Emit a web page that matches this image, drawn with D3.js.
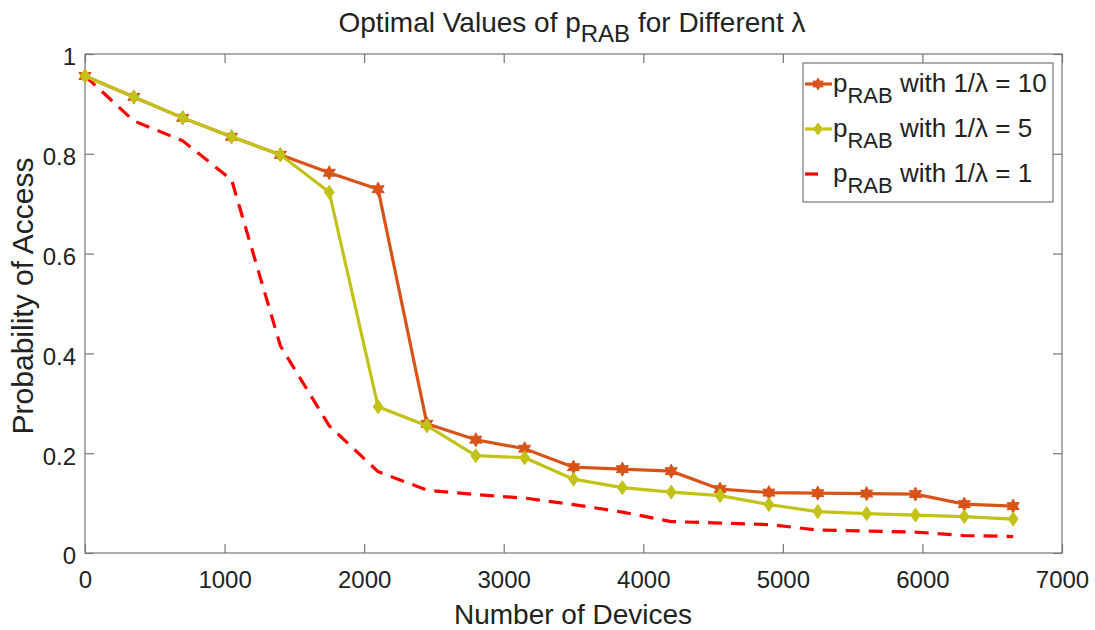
<!DOCTYPE html>
<html><head><meta charset="utf-8">
<script src="https://cdn.jsdelivr.net/npm/d3@7"></script>
<style>
html,body{margin:0;padding:0;background:#fff;}
text{font-family:"Liberation Sans",Arial,sans-serif;fill:#222;}
</style></head>
<body><svg id="c" width="1095" height="630"></svg>
<script>
const devices = [0,350,700,1050,1400,1750,2100,2450,2800,3150,3500,3850,4200,4550,4900,5250,5600,5950,6300,6650];
const pLambda10 = [0.956,0.914,0.872,0.834,0.798,0.762,0.729,0.259,0.227,0.209,0.172,0.168,0.164,0.128,0.121,0.120,0.119,0.118,0.098,0.094];
const pLambda5  = [0.956,0.914,0.872,0.834,0.798,0.723,0.293,0.255,0.195,0.191,0.148,0.131,0.122,0.115,0.097,0.083,0.079,0.076,0.073,0.068];
const pLambda1  = [0.956,0.866,0.826,0.748,0.415,0.255,0.163,0.126,0.117,0.110,0.097,0.082,0.063,0.060,0.057,0.046,0.044,0.042,0.035,0.033];
const xTicks = [0,1000,2000,3000,4000,5000,6000,7000];
const yTicks = [0,0.2,0.4,0.6,0.8,1];
const yTickLabels = ["0","0.2","0.4","0.6","0.8","1"];
const legendLabels = ["10","5","1"];

const svg = d3.select("#c");
const L=85, R=1062, T=54, B=553;
const x = d3.scaleLinear().domain([0,7000]).range([L,R]);
const y = d3.scaleLinear().domain([0,1]).range([B,T]);
const axisColor = "#777";

svg.append("rect").attr("x",L).attr("y",T).attr("width",R-L).attr("height",B-T)
  .attr("fill","none").attr("stroke",axisColor).attr("stroke-width",1.2);

function styleAxis(g){
  g.select(".domain").remove();
  g.selectAll(".tick line").attr("stroke",axisColor).attr("stroke-width",1.2);
  g.selectAll(".tick text").style("font-size","24px").style("font-family","'Liberation Sans',Arial,sans-serif").attr("fill","#222");
}
const tl = 9;
svg.append("g").attr("transform",`translate(0,${B})`)
  .call(d3.axisBottom(x).tickValues(xTicks).tickFormat(d3.format("d")).tickSize(-tl).tickPadding(18))
  .call(styleAxis);
svg.append("g").attr("transform",`translate(0,${T})`)
  .call(d3.axisTop(x).tickValues(xTicks).tickFormat("").tickSize(-tl)).call(styleAxis);
svg.append("g").attr("transform",`translate(${L},0)`)
  .call(d3.axisLeft(y).tickValues(yTicks).tickFormat((d,i)=>yTickLabels[i]).tickSize(-tl).tickPadding(9))
  .call(styleAxis)
  .call(g=>g.selectAll(".tick text").attr("dy","0.45em"));
svg.append("g").attr("transform",`translate(${R},0)`)
  .call(d3.axisRight(y).tickValues(yTicks).tickFormat("").tickSize(-tl)).call(styleAxis);

const line = d3.line().x((d,i)=>x(devices[i])).y(d=>y(d));
const cOrange="#D95319", cYellow="#C2C218", cRed="#FF0000";

function hexagram(r){
  const pts=[];
  for(let k=0;k<12;k++){
    const a=-Math.PI/2 + k*Math.PI/6;
    const rr = (k%2===0)? r : r*0.55;
    pts.push([rr*Math.cos(a), rr*Math.sin(a)]);
  }
  return "M"+pts.map(p=>p.join(",")).join("L")+"Z";
}
function diamond(r){ return `M0,${-r}L${r*0.7},0L0,${r}L${-r*0.7},0Z`; }

svg.append("path").datum(pLambda1).attr("d",line).attr("fill","none")
  .attr("stroke",cRed).attr("stroke-width",3.2).attr("stroke-dasharray","14,9");
svg.append("path").datum(pLambda10).attr("d",line).attr("fill","none")
  .attr("stroke",cOrange).attr("stroke-width",3.2);
svg.selectAll(".m10").data(pLambda10).enter().append("path")
  .attr("transform",(d,i)=>`translate(${x(devices[i])},${y(d)})`)
  .attr("d",hexagram(7)).attr("fill",cOrange).attr("stroke",cOrange).attr("stroke-width",1);
svg.append("path").datum(pLambda5).attr("d",line).attr("fill","none")
  .attr("stroke",cYellow).attr("stroke-width",3.2);
svg.selectAll(".m5").data(pLambda5).enter().append("path")
  .attr("transform",(d,i)=>`translate(${x(devices[i])},${y(d)})`)
  .attr("d",diamond(7)).attr("fill",cYellow).attr("stroke",cYellow).attr("stroke-width",1);

// title
const title = svg.append("text").attr("x",572).attr("y",32).attr("text-anchor","middle").style("font-size","28px");
title.append("tspan").text("Optimal Values of p");
title.append("tspan").attr("dy",10).style("font-size","24px").text("RAB");
title.append("tspan").attr("dy",-10).text(" for Different λ");

svg.append("text").attr("x",573).attr("y",624).attr("text-anchor","middle").style("font-size","28px").text("Number of Devices");
svg.append("text").attr("transform",`translate(33,296) rotate(-90)`).attr("text-anchor","middle").style("font-size","30px").text("Probability of Access");

// legend
const lg = svg.append("g");
lg.append("rect").attr("x",803).attr("y",63).attr("width",250).attr("height",139)
  .attr("fill","#fff").attr("stroke",axisColor).attr("stroke-width",1.2);
const legY=[92,137,182];
const colors=[cOrange,cYellow,cRed];
legendLabels.forEach((lab,i)=>{
  const yy = legY[i]-8;
  if(i<2){
    lg.append("line").attr("x1",805).attr("x2",832).attr("y1",yy).attr("y2",yy).attr("stroke",colors[i]).attr("stroke-width",3.2);
    lg.append("path").attr("transform",`translate(818,${yy})`).attr("d", i===0?hexagram(6):diamond(6)).attr("fill",colors[i]).attr("stroke",colors[i]);
  } else {
    lg.append("line").attr("x1",805).attr("x2",818).attr("y1",yy).attr("y2",yy).attr("stroke",colors[i]).attr("stroke-width",3.2);
  }
  const t = lg.append("text").attr("x",833).attr("y",legY[i]).style("font-size","26px");
  t.append("tspan").text("p");
  t.append("tspan").attr("dy",11).style("font-size","22px").text("RAB");
  t.append("tspan").attr("dy",-11).text(" with 1/λ = "+lab);
});
</script></body></html>
